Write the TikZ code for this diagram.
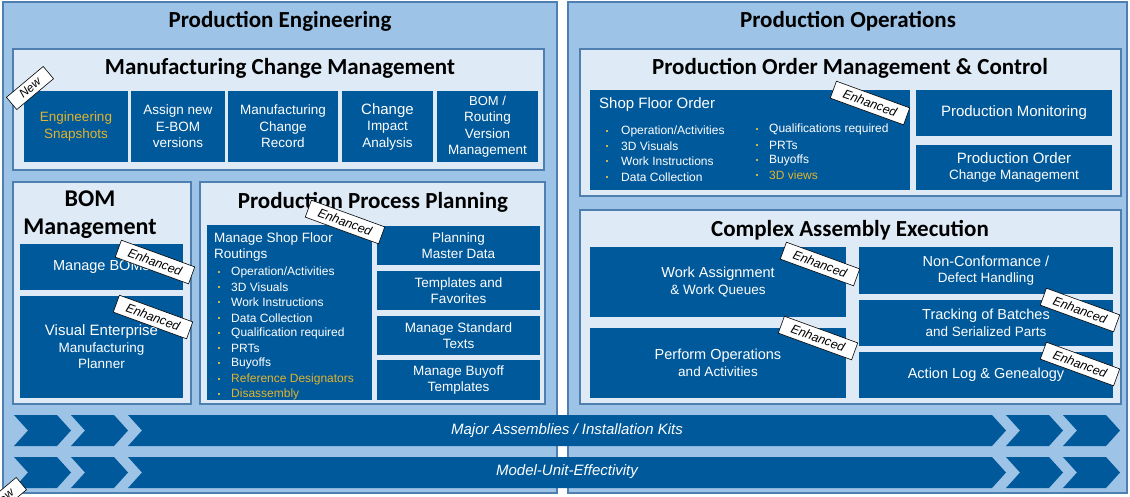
\documentclass[tikz,border=0pt]{standalone}
\usepackage{fontspec}
\setmainfont{Liberation Sans}
\newfontfamily\calfont{Carlito}
\definecolor{outerfill}{HTML}{9DC3E6}
\definecolor{panelline}{HTML}{4F7FB0}
\definecolor{innerfill}{HTML}{DEEBF7}
\definecolor{boxblue}{HTML}{00599A}
\definecolor{goldtxt}{HTML}{E2B330}
\definecolor{bulletc}{HTML}{C9B458}
\tikzset{
  outerpanel/.style={fill=outerfill, draw=panelline, line width=1.3pt, anchor=north west, inner sep=0pt, outer sep=0pt},
  innerpanel/.style={fill=innerfill, draw=panelline, line width=1.3pt, anchor=north west, inner sep=0pt, outer sep=0pt},
  bluebox/.style={fill=boxblue, text=white, align=center, inner sep=2pt, outer sep=0pt, font=\fontsize{13.5}{16.5}\selectfont, anchor=north west},
  ttl/.style={font=\calfont\bfseries\fontsize{23}{27}\selectfont, text=black, inner sep=0pt, align=center},
  tagbox/.style={fill=white, draw=black, line width=0.6pt, font=\itshape\fontsize{12.5}{13}\selectfont, minimum width=78pt, minimum height=18pt, inner sep=1pt},
  newtag/.style={fill=white, draw=black, line width=0.6pt, font=\itshape\fontsize{12}{13}\selectfont, minimum width=48pt, minimum height=16pt, inner sep=1pt, rotate=40},
  bandtxt/.style={text=white, font=\itshape\fontsize{15}{17}\selectfont, inner sep=0pt},
  listtxt/.style={text=white, font=\fontsize{12}{14}\selectfont, anchor=west, inner sep=0pt},
}
\newcommand\mypanel[6]{\node[#6, minimum width={(#4-#2)*1pt}, minimum height={(#5-#3)*1pt}] (#1) at (#2,#3) {};}
\newcommand\mybox[6]{\node[bluebox, minimum width={(#4-#2)*1pt}, minimum height={(#5-#3)*1pt}] (#1) at (#2,#3) {};
  \node[text=white, align=center, inner sep=0pt, font=\fontsize{13.5}{16.5}\selectfont] (#1-t) at (#1.center) {#6};}
\newcommand\chevseg[4]{\fill[boxblue] (#1,#3) -- ({#1+14},{(#3+#4)/2}) -- (#1,#4) -- (#2,#4) -- ({#2+14},{(#3+#4)/2}) -- (#2,#3) -- cycle;}
\newcommand\bul[3]{\fill[bulletc] ({#1-1.2},{#2-1.2}) rectangle ({#1+1.2},{#2+1.2});}
\begin{document}
\begin{tikzpicture}[x=1pt,y=-1pt]
\useasboundingbox (0,0) rectangle (1130,496);
\clip (0,0) rectangle (1130,496);
\fill[white] (0,0) rectangle (1130,496);

% outer panels
\mypanel{pe}{3}{2}{557}{493}{outerpanel}
\mypanel{po}{568}{2}{1127}{493}{outerpanel}
\node[ttl] (pet) at (280,21) {Production Engineering};
\node[ttl] (pot) at (848,21) {Production Operations};

% Manufacturing Change Management
\mypanel{mcm}{13}{49}{544}{170}{innerpanel}
\node[ttl] (mcmt) at (280,68) {Manufacturing Change Management};
\mybox{es}{24}{91}{128}{162}{\color{goldtxt}Engineering\\\color{goldtxt}Snapshots}
\mybox{ab}{131}{91}{225}{162}{Assign new\\E-BOM\\versions}
\mybox{mc}{228}{91}{338}{162}{Manufacturing\\Change\\Record}
\mybox{ci}{342}{91}{433}{162}{\fontsize{15}{18}\selectfont Change\\Impact\\Analysis}
\mybox{br}{437}{91}{538}{162}{\fontsize{13}{15.5}\selectfont BOM /\\Routing\\Version\\Management}

% BOM Management
\mypanel{bm}{13}{182}{191}{404}{innerpanel}
\node[ttl, font=\calfont\bfseries\fontsize{24}{28}\selectfont] (bmt) at (90,215) {BOM\\Management};
\mybox{mb}{20}{244}{183}{290}{\fontsize{14.5}{17}\selectfont Manage BOMs}
\mybox{ve}{20}{296}{183}{398}{\fontsize{15}{18}\selectfont Visual Enterprise\\Manufacturing\\Planner}

% Production Process Planning
\mypanel{ppp}{200}{182}{545}{404}{innerpanel}
\node[ttl] (pppt) at (373,202) {Production Process Planning};
\mybox{msf}{207}{225}{372}{400}{}
\node[listtxt, font=\fontsize{13.5}{16}\selectfont, align=left, anchor=north west] (msft) at (214,233) {Manage Shop Floor\\Routings};
\bul{219}{272}{}\node[listtxt] (r1) at (231,272) {Operation/Activities};
\bul{219}{287}{}\node[listtxt] (r2) at (231,287) {3D Visuals};
\bul{219}{302}{}\node[listtxt] (r3) at (231,302) {Work Instructions};
\bul{219}{318}{}\node[listtxt] (r4) at (231,318) {Data Collection};
\bul{219}{333}{}\node[listtxt] (r5) at (231,333) {Qualification required};
\bul{219}{348}{}\node[listtxt] (r6) at (231,348) {PRTs};
\bul{219}{363}{}\node[listtxt] (r7) at (231,363) {Buyoffs};
\bul{219}{379}{}\node[listtxt, text=goldtxt] (r8) at (231,379) {Reference Designators};
\bul{219}{394}{}\node[listtxt, text=goldtxt] (r9) at (231,394) {Disassembly};
\mybox{pmd}{377}{226}{540}{265}{Planning\\Master Data}
\mybox{tf}{377}{271}{540}{310}{Templates and\\Favorites}
\mybox{mst}{377}{316}{540}{355}{Manage Standard\\Texts}
\mybox{mbt}{377}{360}{540}{400}{Manage Buyoff\\Templates}

% Production Order Management & Control
\mypanel{pomc}{580}{49}{1121}{196}{innerpanel}
\node[ttl] (pomct) at (850,68) {Production Order Management \& Control};
\mybox{sfo}{590}{90}{910}{190}{}
\node[listtxt, font=\fontsize{15}{17}\selectfont] (sfot) at (599,105) {Shop Floor Order};
\bul{607}{131}{}\node[listtxt] (s1) at (621,131) {Operation/Activities};
\bul{607}{146}{}\node[listtxt] (s2) at (621,146) {3D Visuals};
\bul{607}{161}{}\node[listtxt] (s3) at (621,161) {Work Instructions};
\bul{607}{177}{}\node[listtxt] (s4) at (621,177) {Data Collection};
\bul{757}{129}{}\node[listtxt] (s5) at (769,129) {Qualifications required};
\bul{757}{145}{}\node[listtxt] (s6) at (769,145) {PRTs};
\bul{757}{160}{}\node[listtxt] (s7) at (769,160) {Buyoffs};
\bul{757}{175}{}\node[listtxt, text=goldtxt] (s8) at (769,175) {3D views};
\mybox{pm}{916}{90}{1112}{136}{\fontsize{15}{17}\selectfont Production Monitoring}
\mybox{poc}{916}{145}{1112}{190}{\fontsize{15}{18}\selectfont Production Order\\Change Management}

% Complex Assembly Execution
\mypanel{cae}{580}{210}{1121}{404}{innerpanel}
\node[ttl] (caet) at (850,230) {Complex Assembly Execution};
\mybox{wa}{590}{247}{846}{317}{\fontsize{14.5}{18}\selectfont Work Assignment\\\& Work Queues}
\mybox{pop}{590}{328}{846}{398}{\fontsize{14.5}{18}\selectfont Perform Operations\\and Activities}
\mybox{nc}{859}{247}{1113}{294}{\fontsize{14.5}{18}\selectfont Non-Conformance /\\Defect Handling}
\mybox{tb}{859}{300}{1113}{346}{\fontsize{14.5}{18}\selectfont Tracking of Batches\\and Serialized Parts}
\mybox{al}{859}{352}{1113}{398}{\fontsize{14.5}{18}\selectfont Action Log \& Genealogy}

% chevron bands
\foreach \t/\b in {415/446, 457/488}{
  \chevseg{14}{57}{\t}{\b}
  \chevseg{71}{114}{\t}{\b}
  \chevseg{128}{992}{\t}{\b}
  \chevseg{1006}{1049}{\t}{\b}
  \chevseg{1063}{1106}{\t}{\b}
}
\node[bandtxt] (band1) at (567,431) {Major Assemblies / Installation Kits};
\node[bandtxt] (band2) at (567,472) {Model-Unit-Effectivity};

% tags
\node[newtag] (new1) at (30,88) {New};
\node[newtag] (new2) at (3,499) {New};
\node[tagbox, rotate=-20] (en1) at (870,103) {Enhanced};
\node[tagbox, rotate=-20] (en2) at (345,222) {Enhanced};
\node[tagbox, rotate=-20] (en3) at (155,262) {Enhanced};
\node[tagbox, rotate=-20] (en4) at (153,317) {Enhanced};
\node[tagbox, rotate=-20] (en5) at (820,264) {Enhanced};
\node[tagbox, rotate=-20] (en6) at (818,338) {Enhanced};
\node[tagbox, rotate=-20] (en7) at (1080,310) {Enhanced};
\node[tagbox, rotate=-20] (en8) at (1080,364) {Enhanced};
\end{tikzpicture}
\end{document}
